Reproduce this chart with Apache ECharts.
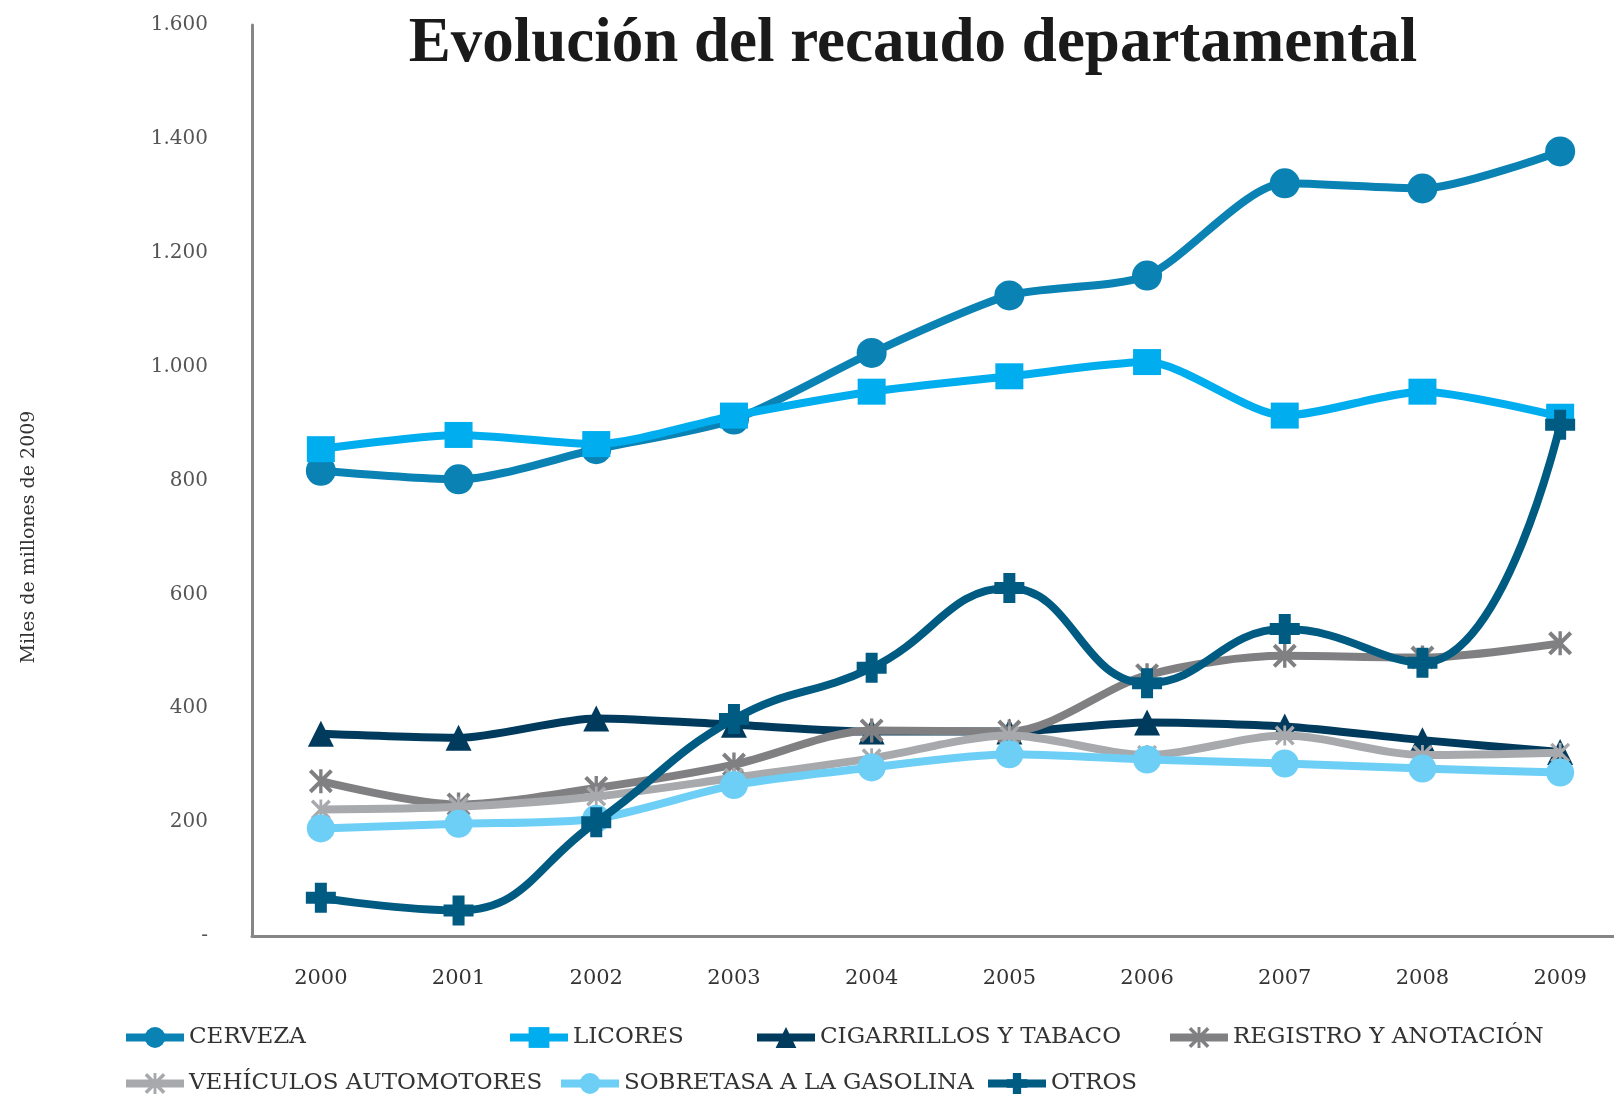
<!DOCTYPE html>
<html>
<head>
<meta charset="utf-8">
<script src="https://cdn.jsdelivr.net/npm/echarts@6/dist/echarts.min.js"></script>
<style>
html,body{margin:0;padding:0;width:1614px;height:1095px;overflow:hidden;background:#fff;}
#chart{width:1640px;height:1095px;}
</style>
</head>
<body>
<div id="chart"></div>
<script>
const years = ['2000','2001','2002','2003','2004','2005','2006','2007','2008','2009'];
const seriesNames = ['CERVEZA','LICORES','CIGARRILLOS Y TABACO','REGISTRO Y ANOTACIÓN','VEHÍCULOS AUTOMOTORES','SOBRETASA A LA GASOLINA','OTROS'];
const cerveza = [817, 802, 855, 907, 1024, 1125, 1160, 1322, 1313, 1378];
const licores = [855, 880, 864, 914, 956, 983, 1008, 914, 956, 912];
const cigarrillos = [355, 348, 382, 371, 359, 359, 375, 368, 344, 323];
const registro = [272, 231, 260, 301, 361, 359, 458, 492, 489, 514];
const vehiculos = [222, 227, 245, 278, 312, 352, 318, 352, 318, 322];
const sobretasa = [189, 197, 206, 265, 296, 319, 310, 303, 294, 287];
const otros = [67, 45, 200, 381, 471, 611, 444, 539, 480, 898];
const yTicks = {min: 0, max: 1600, interval: 200};
const titleText = 'Evolución del recaudo departamental';
const yName = 'Miles de millones de 2009';

const colors = ['#0A83B4', '#00AEEF', '#003A5C', '#808083', '#A7A9AC', '#6DCFF6', '#005B82'];
const plusPath = 'path://M3,0 H7 V3 H10 V7 H7 V10 H3 V7 H0 V3 H3 Z';
const starPath = 'path://M0,1.2 L1.2,0 L10,8.8 L8.8,10 Z M8.8,0 L10,1.2 L1.2,10 L0,8.8 Z M4.3,0 H5.7 V10 H4.3 Z';
const symbols = ['circle', 'rect', 'triangle', starPath, starPath, 'circle', plusPath];
const symbolSizes = [30, [28, 26], 26, 24, 20, 28, 30];
const smooths = [0.25, 0.25, 0.25, 0.3, 0.3, 0.25, 0.45];
const dataSets = [cerveza, licores, cigarrillos, registro, vehiculos, sobretasa, otros];

const legendPos = [
  {left: 122, top: 1026}, {left: 506, top: 1026}, {left: 753, top: 1026}, {left: 1166, top: 1026},
  {left: 122, top: 1072}, {left: 557, top: 1072}, {left: 984, top: 1072}
];
const serif = 'DejaVu Serif';

const chart = echarts.init(document.getElementById('chart'));
chart.setOption({
  animation: false,
  backgroundColor: '#fff',
  color: colors,
  graphic: [{
    type: 'text',
    style: {
      text: titleText, x: 913, y: 45, textAlign: 'center', textVerticalAlign: 'middle',
      font: 'bold 63px "Liberation Serif"', fill: '#1a1a1a'
    }
  }, {
    type: 'text', rotation: Math.PI / 2, x: 29, y: 537,
    style: {
      text: yName, x: 0, y: 0, textAlign: 'center', textVerticalAlign: 'middle',
      font: '19px "DejaVu Serif"', fill: '#333'
    }
  }],
  grid: {left: 252, top: 25, width: 1377, bottom: 159, containLabel: false},
  legend: legendPos.map((p, i) => ({
    data: [seriesNames[i]], left: p.left, top: p.top, orient: 'horizontal',
    itemWidth: 58, itemHeight: 26, padding: 0,
    lineStyle: {width: 8},
    textStyle: {fontFamily: serif, fontSize: 23, color: '#333'}
  })),
  xAxis: {
    type: 'category', data: years, boundaryGap: true,
    axisLine: {lineStyle: {color: '#868686', width: 3}},
    axisTick: {show: false},
    axisLabel: {fontFamily: serif, fontSize: 21, color: '#333', margin: 32}
  },
  yAxis: {
    type: 'value', min: yTicks.min, max: yTicks.max, interval: yTicks.interval,
    axisLine: {show: true, lineStyle: {color: '#868686', width: 3}},
    axisTick: {show: false},
    splitLine: {show: false},
    axisLabel: {
      fontFamily: serif, fontSize: 20, color: '#555', margin: 44,
      formatter: v => v === 0 ? '-' : String(v).replace(/\B(?=(\d{3})+(?!\d))/g, '.')
    }
  },
  series: dataSets.map((d, i) => ({
    name: seriesNames[i], type: 'line', data: d,
    smooth: smooths[i],
    symbol: symbols[i], symbolSize: symbolSizes[i],
    lineStyle: {width: 8, color: colors[i]},
    itemStyle: {color: colors[i]},
    z: 2 + i
  }))
});
</script>
</body>
</html>
